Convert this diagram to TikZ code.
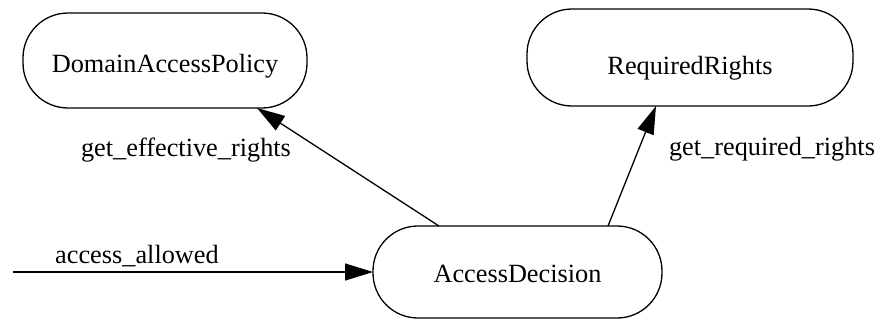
\documentclass[tikz,border=0pt]{standalone}
\usepackage{fontspec}
\setmainfont{Liberation Serif}
\usetikzlibrary{arrows.meta}
\begin{document}
\begin{tikzpicture}[x=1bp,y=-1bp,
  every node/.style={font=\fontsize{26.3bp}{30bp}\selectfont, inner sep=0pt, outer sep=0pt},
  box/.style={draw, line width=1.3bp, rounded corners=45bp, text depth=0pt},
  edge/.style={line width=1.3bp, -{Triangle[length=28bp,width=17bp]}},
  lbl/.style={anchor=base}]
\useasboundingbox (0,0) rectangle (884,320);
\node[box, minimum width=284bp, minimum height=95bp, text height=23bp] (dap) at (165,60.5) {DomainAccessPolicy};
\node[box, minimum width=326bp, minimum height=97bp, text height=33bp] (rr) at (690,57.5) {RequiredRights};
\node[box, minimum width=289bp, minimum height=92bp, text height=20bp] (ad) at (517.5,272) {AccessDecision};
\coordinate (src) at (13,272);
\draw[edge] ([xshift=-78.5bp]ad.north) -- ([xshift=92bp]dap.south);
\draw[edge] ([xshift=90.5bp]ad.north) -- ([xshift=-34bp]rr.south);
\draw[edge] (src) -- (ad.west);
\node[lbl] (l1) at (186,156) {get\_effective\_rights};
\node[lbl] (l2) at (772,155) {get\_required\_rights};
\node[lbl] (l3) at (137,263) {access\_allowed};
\end{tikzpicture}
\end{document}
